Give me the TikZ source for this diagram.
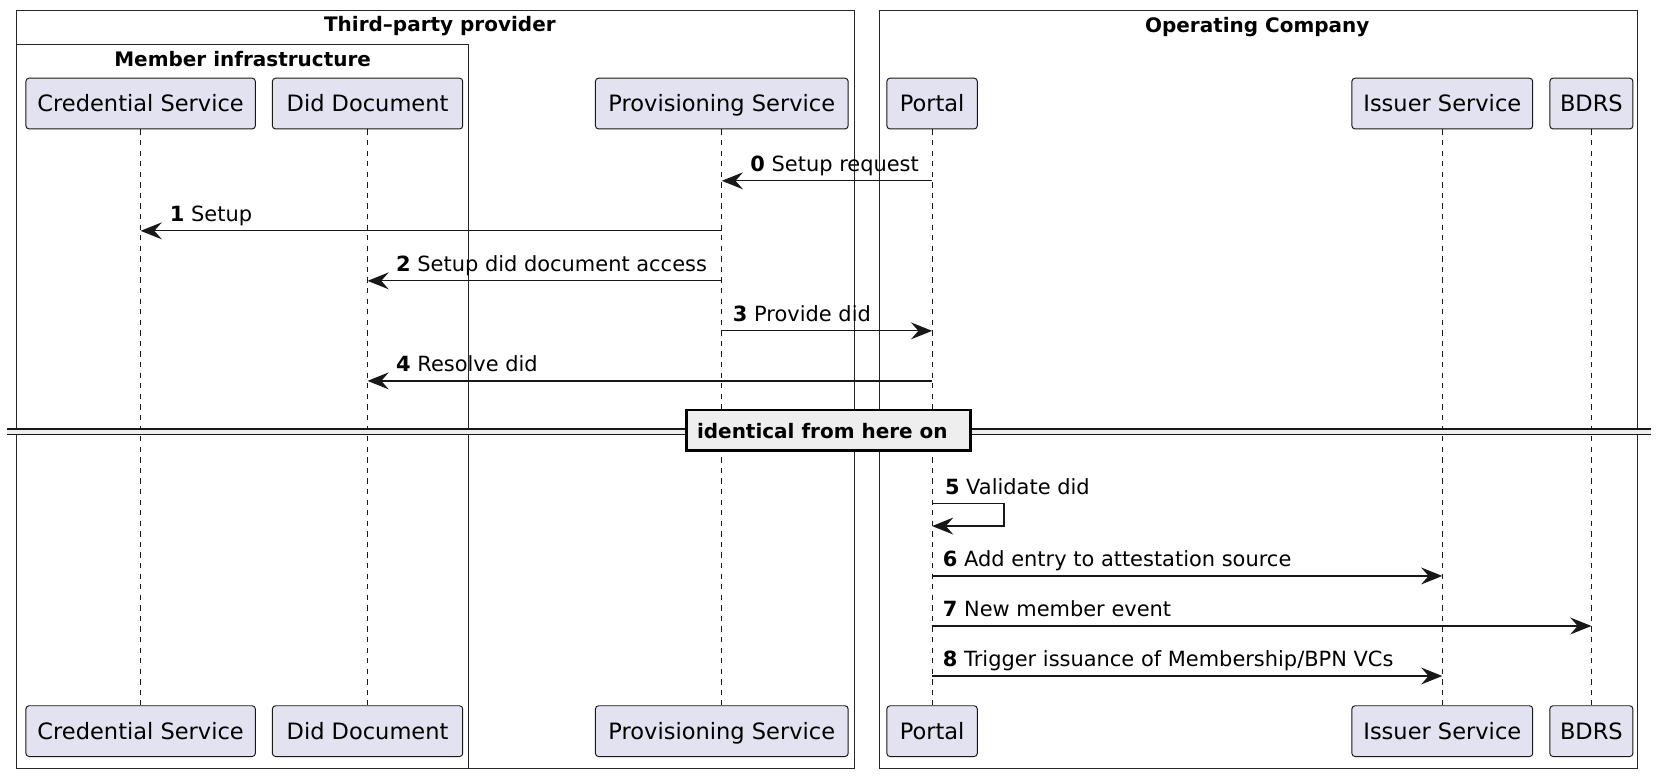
\documentclass[tikz,border=0pt]{standalone}
\usepackage{fontspec}
\setmainfont{DejaVu Sans}
\usetikzlibrary{arrows.meta}
\definecolor{partfill}{HTML}{E2E2F0}
\definecolor{linec}{HTML}{181818}
\definecolor{divfill}{HTML}{EEEEEE}
\newcommand\pfont{\fontsize{21.3}{25}\selectfont}
\newcommand\mfont{\fontsize{19.8}{24}\selectfont}
\newcommand\tfont{\fontsize{18.9}{23}\selectfont\bfseries}
\tikzset{
  ptbox/.style={draw=linec, fill=partfill, rounded corners=3pt, line width=0.9pt,
    inner xsep=0pt, inner ysep=0pt, text height=31.8pt, text depth=16.2pt,
    anchor=north, font=\pfont},
  lifeline/.style={draw=linec, line width=0.8pt, dash pattern=on 5pt off 5pt},
  msg/.style={draw=linec, line width=1.2pt, -{Stealth[length=20pt,width=16pt,inset=7pt]}},
  lbl/.style={anchor=base west, inner sep=0pt, font=\mfont},
  grp/.style={draw=black!85, line width=1pt},
  grptitle/.style={anchor=base, inner sep=0pt, font=\tfont},
}
\begin{document}
\begin{tikzpicture}[x=1pt,y=-1pt]
\useasboundingbox (0,0) rectangle (1568,736);
\fill[white] (0,0) rectangle (1568,736);
% groups
\draw[grp] (16,10) rectangle (808,727);
\draw[grp] (16,42) rectangle (443,727);
\draw[grp] (832,10) rectangle (1549,727);
\node[grptitle] (tpt) at (416,30) {Third–party provider};
\node[grptitle] (mit) at (229.5,63) {Member infrastructure};
\node[grptitle] (oct) at (1189,30.5) {Operating Company};
% participants
\node[ptbox, minimum width=217pt] (credT) at (133,73.5) {Credential Service};
\node[ptbox, minimum width=180pt] (didT) at (347.6,73.5) {Did Document};
\node[ptbox, minimum width=239pt] (provT) at (682.6,73.5) {Provisioning Service};
\node[ptbox, minimum width=85.5pt] (portalT) at (881.5,73.5) {Portal};
\node[ptbox, minimum width=171pt] (issT) at (1364,73.5) {Issuer Service};
\node[ptbox, minimum width=78.5pt] (bdrsT) at (1505,73.5) {BDRS};
\node[ptbox, minimum width=217pt] (credB) at (133,667) {Credential Service};
\node[ptbox, minimum width=180pt] (didB) at (347.6,667) {Did Document};
\node[ptbox, minimum width=239pt] (provB) at (682.6,667) {Provisioning Service};
\node[ptbox, minimum width=85.5pt] (portalB) at (881.5,667) {Portal};
\node[ptbox, minimum width=171pt] (issB) at (1364,667) {Issuer Service};
\node[ptbox, minimum width=78.5pt] (bdrsB) at (1505,667) {BDRS};
% lifelines
\foreach \p in {cred,did,prov,portal,iss,bdrs}{
  \draw[lifeline] (\p T.south) -- (\p B.north);
}
% message levels
\coordinate (m0) at (0,171);
\coordinate (m1) at (0,218.3);
\coordinate (m2) at (0,265.6);
\coordinate (m3) at (0,312.9);
\coordinate (m4) at (0,360.2);
\coordinate (m5a) at (0,476);
\coordinate (m5b) at (0,497.5);
\coordinate (m6) at (0,544.7);
\coordinate (m7) at (0,592);
\coordinate (m8) at (0,639.3);
\draw[msg] (portalT |- m0) -- (provT |- m0);
\node[lbl] (l0) at (709.5,162.3) {\textbf{0} Setup request};
\draw[msg] (provT |- m1) -- (credT |- m1);
\node[lbl] (l1) at (160.5,209.6) {\textbf{1} Setup};
\draw[msg] (provT |- m2) -- (didT |- m2);
\node[lbl] (l2) at (374.5,256.9) {\textbf{2} Setup did document access};
\draw[msg] (provT |- m3) -- (portalT |- m3);
\node[lbl] (l3) at (693,304.2) {\textbf{3} Provide did};
\draw[msg] (portalT |- m4) -- (didT |- m4);
\node[lbl] (l4) at (374.5,351.5) {\textbf{4} Resolve did};
% divider
\fill[divfill] (7,405.7) rectangle (1561,411);
\draw[linec, line width=1.3pt] (7,405.7) -- (1561,405.7) (7,411) -- (1561,411);
\node[draw=black, fill=divfill, line width=2.5pt, minimum width=269pt, minimum height=38.5pt, inner sep=0pt] (div) at (783.5,407) {};
\node[anchor=base west, inner sep=0pt, font=\tfont] (divt) at (659,414.5) {identical from here on};
% self message
\draw[msg] (portalT |- m5a) -- ++(68,0) -- ++(0,21.5) -- (portalT |- m5b);
\node[lbl] (l5) at (893.5,468) {\textbf{5} Validate did};
\draw[msg] (portalT |- m6) -- (issT |- m6);
\node[lbl] (l6) at (891.5,536) {\textbf{6} Add entry to attestation source};
\draw[msg] (portalT |- m7) -- (bdrsT |- m7);
\node[lbl] (l7) at (891.5,583.3) {\textbf{7} New member event};
\draw[msg] (portalT |- m8) -- (issT |- m8);
\node[lbl] (l8) at (891.5,630.6) {\textbf{8} Trigger issuance of Membership/BPN VCs};
\end{tikzpicture}
\end{document}
